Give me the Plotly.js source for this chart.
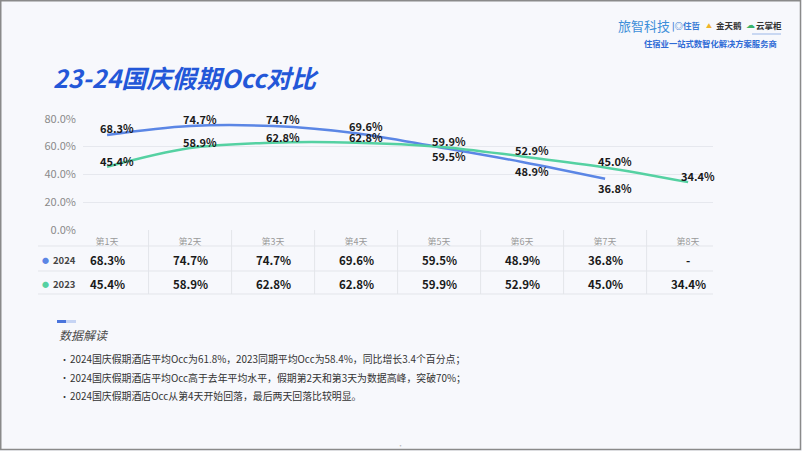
<!DOCTYPE html>
<html>
<head>
<meta charset="utf-8">
<script src="https://cdn.plot.ly/plotly-3.0.1.min.js"></script>
<style>
  html, body { margin: 0; padding: 0; background: #f7f8fc; }
  #chart { width: 802px; height: 451px; }
</style>
</head>
<body>
<div id="chart"></div>
<script>
// data
const days = ['第1天', '第2天', '第3天', '第4天', '第5天', '第6天', '第7天', '第8天'];
const occ2024 = [68.3, 74.7, 74.7, 69.6, 59.5, 48.9, 36.8];
const occ2023 = [45.4, 58.9, 62.8, 62.8, 59.9, 52.9, 45.0, 34.4];
const yTicks = [0, 20, 40, 60, 80];
const notes = [
  '2024国庆假期酒店平均Occ为61.8%，2023同期平均Occ为58.4%，同比增长3.4个百分点；',
  '2024国庆假期酒店平均Occ高于去年平均水平，假期第2天和第3天为数据高峰，突破70%；',
  '2024国庆假期酒店Occ从第4天开始回落，最后两天回落比较明显。'
];

const BLUE = '#5b86e5';
const GREEN = '#55d1a2';
const FONT = '"Noto Sans CJK SC", "Noto Sans", sans-serif';

// pixel -> paper helpers (plot area is 83..713 x, 118..230 y)
const L = 83, R = 713, T = 118, B = 230;
function px(x) { return (x - L) / (R - L); }
function py(y) { return (B - y) / (B - T); }

function fmt(v) { return v.toFixed(1) + '%'; }

// text placed by pixel position on the slide
function label(x, y, text, font, xanchor) {
  return {
    x: px(x), y: py(y), xref: 'paper', yref: 'paper', text: text, showarrow: false,
    xanchor: xanchor || 'left', yanchor: 'middle', font: font
  };
}

const data = [{
  x: days.slice(0, occ2024.length),
  y: occ2024,
  type: 'scatter',
  mode: 'lines',
  line: { color: BLUE, width: 2.5, shape: 'spline', smoothing: 1 },
  hoverinfo: 'skip'
}, {
  x: days,
  y: occ2023,
  type: 'scatter',
  mode: 'lines',
  line: { color: GREEN, width: 2.5, shape: 'spline', smoothing: 1 },
  hoverinfo: 'skip'
}];

var annotations = [];
var shapes = [];

// point labels
occ2024.forEach((v, i) => {
  var below = i >= 4;
  annotations.push({
    x: days[i], y: v, xref: 'x', yref: 'y', text: fmt(v), showarrow: false,
    xanchor: 'center', yanchor: 'middle',
    xshift: 10, yshift: below ? -9 : 7,
    font: { family: FONT, size: 11, color: '#1a1a1a', weight: 'bold' }
  });
});
occ2023.forEach((v, i) => {
  annotations.push({
    x: days[i], y: v, xref: 'x', yref: 'y', text: fmt(v), showarrow: false,
    xanchor: 'center', yanchor: 'middle',
    xshift: 10, yshift: 6,
    font: { family: FONT, size: 11, color: '#1a1a1a', weight: 'bold' }
  });
});

// table rows under the axis
const rows = [
  { name: '2024', vals: occ2024, color: BLUE, y: 260 },
  { name: '2023', vals: occ2023, color: GREEN, y: 284 }
];
rows.forEach(r => {
  annotations.push(label(45, r.y, '●', { family: FONT, size: 7, color: r.color }, 'center'));
  annotations.push(label(51, r.y, r.name, { family: FONT, size: 9.5, color: '#444', weight: 'bold' }));
  days.forEach((d, i) => {
    var v = r.vals[i];
    annotations.push({
      x: d, y: py(r.y), xref: 'x', yref: 'paper',
      text: v === undefined ? '-' : fmt(v), showarrow: false,
      xanchor: 'center', yanchor: 'middle',
      font: { family: FONT, size: 11.5, color: '#1a1a1a', weight: 'bold' }
    });
  });
});
[246, 271, 294].forEach(y => {
  shapes.push({ type: 'line', xref: 'paper', yref: 'paper', x0: px(38), x1: 1, y0: py(y), y1: py(y),
    line: { color: '#e3e5ea', width: 1 } });
});
for (var i = 0; i < days.length - 1; i++) {
  shapes.push({ type: 'line', xref: 'x', yref: 'paper', x0: i + 0.5, x1: i + 0.5, y0: py(230), y1: py(294),
    line: { color: '#e3e5ea', width: 1 } });
}

// slide title
annotations.push(label(51, 77, '<i>23-24国庆假期Occ对比</i>',
  { family: FONT, size: 25, color: '#2357d8', weight: 'bold' }));

// logo block top right
annotations.push(label(616, 25, '旅智科技', { family: FONT, size: 13, color: '#3d8fd9' }));
annotations.push(label(670, 25, '<b>|◎住哲</b>', { family: FONT, size: 8.5, color: '#3a7bd5' }));
annotations.push(label(704, 25, '<b>▲</b>', { family: FONT, size: 6, color: '#f0b429' }));
annotations.push(label(714, 25, '<b>金天鹅</b>', { family: FONT, size: 8.5, color: '#333' }));
annotations.push(label(744, 25, '☁', { family: 'DejaVu Sans', size: 9, color: '#3bb36a' }));
annotations.push(label(754, 25, '<b>云掌柜</b>', { family: FONT, size: 8.5, color: '#333' }));
shapes.push({ type: 'line', xref: 'paper', yref: 'paper', x0: px(752), x1: px(781), y0: py(34), y1: py(34),
  line: { color: '#9bb7e8', width: 1 } });
annotations.push(label(779, 43, '<b>住宿业一站式数智化解决方案服务商</b>',
  { family: FONT, size: 8.3, color: '#2f6bd6' }, 'right'));

// notes section
shapes.push({ type: 'rect', xref: 'paper', yref: 'paper', x0: px(57), x1: px(66), y0: py(320), y1: py(323),
  fillcolor: '#4a74dc', line: { width: 0 } });
shapes.push({ type: 'rect', xref: 'paper', yref: 'paper', x0: px(66), x1: px(76), y0: py(320), y1: py(323),
  fillcolor: '#c6d4f4', line: { width: 0 } });
annotations.push(label(57, 334, '<i>数据解读</i>', { family: FONT, size: 12, color: '#4a4a4a' }));
notes.forEach((t, k) => {
  var y = 359 + k * 18.5;
  annotations.push(label(58, y, '•', { family: FONT, size: 9, color: '#333' }));
  annotations.push(label(68, y, t, { family: FONT, size: 9.9, color: '#333' }));
});
annotations.push(label(400, 445, '·', { family: FONT, size: 7, color: '#bbb' }, 'center'));

// slide frame
shapes.push({ type: 'rect', xref: 'paper', yref: 'paper', x0: px(0.75), x1: px(800.5), y0: py(0.75), y1: py(449.5),
  line: { color: '#8a8a8a', width: 1.5 }, fillcolor: 'rgba(0,0,0,0)' });

const layout = {
  width: 802,
  height: 451,
  margin: { l: L, r: 802 - R, t: T, b: 451 - B, pad: 0 },
  paper_bgcolor: '#f7f8fc',
  plot_bgcolor: 'rgba(0,0,0,0)',
  showlegend: false,
  font: { family: FONT },
  xaxis: {
    type: 'category',
    categoryarray: days,
    range: [-0.29, 7.3],
    showgrid: false,
    zeroline: false,
    showline: false,
    ticks: '',
    ticklabelstandoff: 5,
    tickfont: { family: FONT, size: 9, color: '#9a9a9a' },
    fixedrange: true
  },
  yaxis: {
    range: [0, 80.5],
    tickvals: yTicks,
    ticktext: yTicks.map(v => v.toFixed(1) + '%'),
    showgrid: true,
    gridcolor: '#e6e8ee',
    gridwidth: 1,
    zeroline: false,
    showline: false,
    ticks: '',
    ticklabelstandoff: 6,
    tickfont: { family: FONT, size: 11, color: '#8a8a8a' },
    fixedrange: true
  },
  annotations: annotations,
  shapes: shapes
};

Plotly.newPlot('chart', data, layout, { displayModeBar: false, staticPlot: true });
</script>
</body>
</html>
